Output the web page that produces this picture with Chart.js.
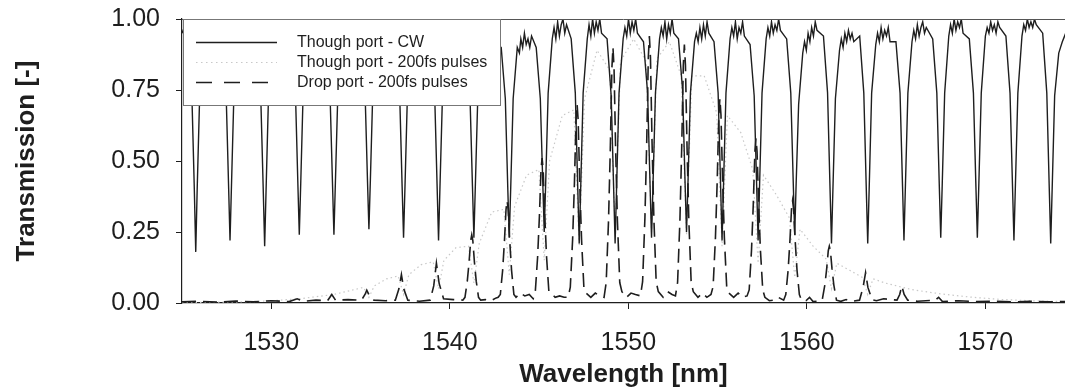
<!DOCTYPE html>
<html>
<head>
<meta charset="utf-8">
<script src="https://cdn.jsdelivr.net/npm/chart.js@4.4.1/dist/chart.umd.min.js"></script>
<style>
  html, body { margin: 0; padding: 0; background: #fff; }
</style>
</head>
<body>
<canvas id="spectrum" width="1065" height="391"></canvas>
<script>
// axis ticks
const xTicks = [1530, 1540, 1550, 1560, 1570];
const yTicks = [0, 0.25, 0.5, 0.75, 1];

const seriesNames = ["Though port - CW", "Though port - 200fs pulses", "Drop port - 200fs pulses"];

// through port, CW  [wavelength nm, transmission], one dip per line
const cwPoints = [
  [1525.00,0.95],[1525.12,0.97],
  [1525.32,0.93],[1525.55,0.74],[1525.69,0.40],[1525.77,0.18],[1525.85,0.40],[1525.99,0.73],[1526.22,0.92],[1526.42,0.97],[1526.62,0.93],[1526.82,0.98],[1527.02,0.94],
  [1527.24,0.92],[1527.47,0.74],[1527.61,0.41],[1527.69,0.22],[1527.77,0.41],[1527.91,0.74],[1528.14,0.93],[1528.34,0.96],[1528.54,0.92],[1528.74,0.97],[1528.94,0.95],
  [1529.18,0.93],[1529.41,0.73],[1529.55,0.40],[1529.63,0.20],[1529.71,0.40],[1529.85,0.74],[1530.08,0.94],[1530.28,0.98],[1530.48,0.94],[1530.68,0.97],[1530.88,0.95],
  [1531.12,0.92],[1531.35,0.75],[1531.49,0.42],[1531.57,0.24],[1531.65,0.42],[1531.79,0.75],[1532.02,0.93],[1532.22,0.97],[1532.42,0.95],[1532.62,0.98],[1532.82,0.94],
  [1533.06,0.93],[1533.29,0.74],[1533.43,0.42],[1533.51,0.24],[1533.59,0.42],[1533.73,0.74],[1533.96,0.92],[1534.16,0.96],[1534.36,0.93],[1534.56,0.97],[1534.76,0.95],
  [1535.02,0.92],[1535.25,0.75],[1535.39,0.43],[1535.47,0.26],[1535.55,0.43],[1535.69,0.75],[1535.92,0.93],[1536.12,0.97],[1536.32,0.94],[1536.52,0.98],[1536.72,0.95],
  [1536.96,0.93],[1537.19,0.74],[1537.33,0.41],[1537.41,0.23],[1537.49,0.41],[1537.63,0.74],[1537.86,0.92],[1538.06,0.96],[1538.26,0.93],[1538.46,0.97],[1538.66,0.94],
  [1538.92,0.92],[1539.15,0.74],[1539.29,0.41],[1539.37,0.22],[1539.45,0.41],[1539.59,0.73],[1539.82,0.92],[1540.02,0.96],[1540.22,0.93],[1540.42,0.97],[1540.62,0.94],
  [1540.90,0.92],[1541.13,0.73],[1541.27,0.41],[1541.35,0.23],[1541.43,0.41],[1541.57,0.73],[1541.80,0.90],[1542.00,0.94],[1542.20,0.92],[1542.40,0.95],[1542.60,0.91],
  [1542.88,0.90],[1543.11,0.72],[1543.25,0.40],[1543.33,0.23],[1543.41,0.40],[1543.55,0.72],[1543.78,0.90],[1543.90,0.88],[1543.98,0.93],[1544.08,0.90],[1544.18,0.95],[1544.28,0.91],[1544.38,0.93],[1544.48,0.90],[1544.58,0.94],
  [1544.84,0.90],[1545.07,0.72],[1545.21,0.42],[1545.29,0.25],[1545.37,0.42],[1545.51,0.74],[1545.74,0.93],[1545.84,0.97],[1545.94,0.93],[1546.04,0.99],[1546.14,0.94],[1546.24,0.98],[1546.34,1.00],[1546.44,0.95],[1546.54,0.98],
  [1546.80,0.93],[1547.03,0.74],[1547.17,0.40],[1547.25,0.21],[1547.33,0.40],[1547.47,0.74],[1547.70,0.93],[1547.80,0.98],[1547.90,0.94],[1548.00,1.00],[1548.10,0.95],[1548.20,0.99],[1548.30,0.96],[1548.40,1.00],[1548.50,0.95],
  [1548.81,0.93],[1549.04,0.73],[1549.18,0.40],[1549.26,0.21],[1549.34,0.40],[1549.48,0.74],[1549.71,0.93],[1549.81,0.97],[1549.91,0.94],[1550.01,1.00],[1550.11,0.95],[1550.21,0.99],[1550.31,0.96],[1550.41,1.00],[1550.51,0.95],
  [1550.85,0.92],[1551.08,0.74],[1551.22,0.41],[1551.30,0.23],[1551.38,0.41],[1551.52,0.74],[1551.75,0.93],[1551.85,0.97],[1551.95,0.94],[1552.05,0.99],[1552.15,0.93],[1552.25,0.98],[1552.35,0.95],[1552.45,1.00],[1552.55,0.95],
  [1552.81,0.93],[1553.04,0.75],[1553.18,0.42],[1553.26,0.25],[1553.34,0.42],[1553.48,0.74],[1553.71,0.92],[1553.81,0.95],[1553.91,0.92],[1554.01,0.97],[1554.11,0.93],[1554.21,0.98],[1554.31,0.94],[1554.41,0.99],[1554.51,0.95],
  [1554.80,0.92],[1555.03,0.74],[1555.17,0.41],[1555.25,0.22],[1555.33,0.41],[1555.47,0.74],[1555.70,0.93],[1555.80,0.97],[1555.90,0.94],[1556.00,0.99],[1556.10,0.93],[1556.20,0.97],[1556.30,0.95],[1556.40,0.99],[1556.50,0.94],
  [1556.82,0.91],[1557.05,0.73],[1557.19,0.41],[1557.27,0.22],[1557.35,0.41],[1557.49,0.74],[1557.72,0.93],[1557.82,0.97],[1557.92,0.94],[1558.02,0.99],[1558.12,0.95],[1558.22,0.98],[1558.32,0.96],[1558.42,1.00],[1558.52,0.96],
  [1558.87,0.93],[1559.10,0.74],[1559.24,0.42],[1559.32,0.24],[1559.40,0.42],[1559.54,0.70],[1559.77,0.88],[1559.87,0.92],[1559.97,0.89],[1560.07,0.95],[1560.17,0.92],[1560.27,0.97],[1560.37,0.94],[1560.47,0.99],[1560.57,0.96],
  [1560.93,0.94],[1561.16,0.74],[1561.30,0.40],[1561.38,0.21],[1561.46,0.40],[1561.60,0.72],[1561.83,0.89],[1561.93,0.93],[1562.03,0.90],[1562.13,0.95],[1562.23,0.92],[1562.33,0.96],[1562.43,0.93],[1562.53,0.95],[1562.63,0.92],
  [1562.96,0.94],[1563.19,0.74],[1563.33,0.40],[1563.41,0.21],[1563.49,0.40],[1563.63,0.74],[1563.86,0.91],[1563.96,0.95],[1564.06,0.92],[1564.16,0.97],[1564.26,0.93],[1564.36,0.96],[1564.46,0.94],[1564.56,0.97],[1564.66,0.92],
  [1564.99,0.92],[1565.22,0.74],[1565.36,0.41],[1565.44,0.22],[1565.52,0.41],[1565.66,0.74],[1565.89,0.92],[1565.99,0.96],[1566.09,0.93],[1566.19,0.98],[1566.29,0.94],[1566.39,0.97],[1566.49,0.99],[1566.59,0.95],[1566.69,0.97],
  [1567.05,0.93],[1567.28,0.74],[1567.42,0.41],[1567.50,0.23],[1567.58,0.41],[1567.72,0.74],[1567.95,0.94],[1568.05,0.98],[1568.15,0.95],[1568.25,1.00],[1568.35,0.96],[1568.45,0.99],[1568.55,0.97],[1568.65,1.00],[1568.75,0.95],
  [1569.10,0.93],[1569.33,0.74],[1569.47,0.41],[1569.55,0.23],[1569.63,0.41],[1569.77,0.74],[1570.00,0.94],[1570.10,0.97],[1570.20,0.95],[1570.30,0.99],[1570.40,0.96],[1570.50,0.98],[1570.60,0.95],[1570.70,0.99],[1570.80,0.97],
  [1571.15,0.94],[1571.38,0.74],[1571.52,0.41],[1571.60,0.22],[1571.68,0.41],[1571.82,0.74],[1572.05,0.94],[1572.15,0.98],[1572.25,0.96],[1572.35,1.00],[1572.45,0.97],[1572.55,0.99],[1572.65,0.97],[1572.75,1.00],[1572.85,0.98],
  [1573.21,0.95],[1573.44,0.74],[1573.58,0.40],[1573.66,0.21],[1573.74,0.40],[1573.88,0.73],[1574.11,0.88],[1574.21,0.90],[1574.31,0.92],[1574.50,0.95]
];

// through port, 200fs pulses (dotted)
const pulseThroughPoints = [
  [1525.0,0.002],[1527.0,0.003],[1529.0,0.005],[1530.5,0.01],[1531.6,0.015],[1532.5,0.022],[1533.5,0.03],[1534.5,0.045],
  [1535.17,0.055],[1535.47,0.02],[1535.77,0.06],[1536.45,0.085],
  [1537.11,0.095],[1537.41,0.03],[1537.71,0.10],[1538.40,0.135],
  [1539.07,0.145],[1539.37,0.05],[1539.67,0.15],[1540.35,0.195],
  [1541.05,0.20],[1541.35,0.07],[1541.65,0.21],[1542.35,0.32],
  [1543.03,0.33],[1543.33,0.10],[1543.63,0.34],[1544.30,0.45],
  [1544.99,0.47],[1545.29,0.15],[1545.59,0.50],[1546.30,0.66],
  [1546.95,0.68],[1547.25,0.20],[1547.55,0.72],[1548.25,0.89],
  [1548.96,0.82],[1549.26,0.25],[1549.56,0.85],[1550.30,0.93],
  [1551.00,0.85],[1551.30,0.25],[1551.60,0.86],[1552.30,0.92],
  [1552.96,0.80],[1553.26,0.24],[1553.56,0.80],[1554.25,0.80],
  [1554.95,0.67],[1555.25,0.20],[1555.55,0.66],[1556.30,0.60],
  [1556.97,0.47],[1557.27,0.14],[1557.57,0.45],[1558.30,0.38],
  [1559.02,0.30],[1559.32,0.09],[1559.62,0.26],[1560.35,0.20],
  [1561.08,0.155],[1561.38,0.05],[1561.68,0.14],[1562.40,0.115],
  [1563.11,0.09],[1563.41,0.03],[1563.71,0.085],[1564.40,0.07],
  [1565.9,0.047],[1567.5,0.032],[1569.3,0.02],[1571.0,0.012],[1573.0,0.007],[1574.5,0.005]
];

// drop port, 200fs pulses (dashed)
const dropPoints = [
  [1525.0,0.004],[1526.0,0.006],[1527.0,0.003],[1528.0,0.007],[1529.0,0.004],[1530.0,0.008],[1531.0,0.005],
  [1531.45,0.015],[1531.8,0.006],[1532.5,0.01],
  [1533.15,0.008],[1533.39,0.03],[1533.6,0.01],[1534.3,0.012],
  [1535.05,0.01],[1535.25,0.03],[1535.35,0.045],[1535.5,0.025],[1535.75,0.01],[1536.4,0.008],
  [1536.95,0.01],[1537.15,0.05],[1537.29,0.10],[1537.42,0.05],[1537.65,0.01],[1538.3,0.006],
  [1538.9,0.01],[1539.1,0.06],[1539.25,0.14],[1539.4,0.07],[1539.65,0.015],[1540.2,0.012],
  [1540.73,0.01],[1540.85,0.02],[1540.98,0.077],[1541.08,0.144],[1541.17,0.22],[1541.23,0.24],[1541.29,0.22],[1541.38,0.144],[1541.48,0.077],[1541.61,0.02],[1541.73,0.01],[1542.0,0.012],[1542.3,0.008],[1542.6,0.018],
  [1542.71,0.02],[1542.83,0.03],[1542.96,0.115],[1543.06,0.216],[1543.15,0.33],[1543.21,0.36],[1543.27,0.33],[1543.36,0.216],[1543.46,0.115],[1543.59,0.03],[1543.71,0.02],[1543.95,0.035],[1544.2,0.025],[1544.45,0.03],
  [1544.67,0.015],[1544.79,0.04],[1544.92,0.163],[1545.02,0.306],[1545.11,0.47],[1545.17,0.51],[1545.23,0.47],[1545.32,0.306],[1545.42,0.163],[1545.55,0.04],[1545.67,0.035],[1545.9,0.02],[1546.15,0.025],[1546.4,0.02],
  [1546.63,0.02],[1546.75,0.056],[1546.88,0.224],[1546.98,0.42],[1547.07,0.644],[1547.13,0.70],[1547.19,0.644],[1547.28,0.42],[1547.38,0.224],[1547.51,0.056],[1547.63,0.035],[1547.9,0.02],[1548.15,0.035],[1548.4,0.025],
  [1548.64,0.02],[1548.76,0.072],[1548.89,0.288],[1548.99,0.54],[1549.08,0.828],[1549.14,0.90],[1549.20,0.828],[1549.29,0.54],[1549.39,0.288],[1549.52,0.072],[1549.64,0.04],[1549.9,0.02],[1550.15,0.035],[1550.4,0.03],
  [1550.68,0.025],[1550.80,0.075],[1550.93,0.30],[1551.03,0.564],[1551.12,0.865],[1551.18,0.94],[1551.24,0.865],[1551.33,0.564],[1551.43,0.30],[1551.56,0.075],[1551.68,0.04],[1551.95,0.02],[1552.2,0.04],[1552.45,0.03],
  [1552.64,0.025],[1552.76,0.073],[1552.89,0.29],[1552.99,0.546],[1553.08,0.837],[1553.14,0.91],[1553.20,0.837],[1553.29,0.546],[1553.39,0.29],[1553.52,0.073],[1553.64,0.04],[1553.9,0.02],[1554.15,0.035],[1554.4,0.02],
  [1554.63,0.03],[1554.75,0.058],[1554.88,0.23],[1554.98,0.432],[1555.07,0.662],[1555.13,0.72],[1555.19,0.662],[1555.28,0.432],[1555.38,0.23],[1555.51,0.058],[1555.63,0.035],[1555.9,0.02],[1556.15,0.035],[1556.4,0.02],
  [1556.65,0.025],[1556.77,0.046],[1556.90,0.186],[1557.00,0.348],[1557.09,0.534],[1557.15,0.58],[1557.21,0.534],[1557.30,0.348],[1557.40,0.186],[1557.53,0.046],[1557.65,0.02],[1557.9,0.008],[1558.15,0.01],[1558.4,0.02],
  [1558.70,0.01],[1558.82,0.03],[1558.95,0.115],[1559.05,0.216],[1559.14,0.33],[1559.20,0.36],[1559.26,0.33],[1559.35,0.216],[1559.45,0.115],[1559.58,0.03],[1559.70,0.01],[1559.95,0.008],[1560.15,0.02],[1560.35,0.005],[1560.6,0.006],
  [1560.86,0.01],[1561.01,0.064],[1561.11,0.12],[1561.20,0.184],[1561.26,0.20],[1561.32,0.184],[1561.41,0.12],[1561.51,0.064],[1561.66,0.01],[1561.9,0.006],[1562.2,0.012],[1562.5,0.006],
  [1562.95,0.01],[1563.15,0.055],[1563.29,0.107],[1563.42,0.055],[1563.65,0.012],[1563.9,0.008],[1564.3,0.015],
  [1565.05,0.01],[1565.2,0.03],[1565.32,0.06],[1565.45,0.03],[1565.65,0.01],[1566.2,0.006],
  [1567.2,0.01],[1567.38,0.02],[1567.6,0.005],[1568.5,0.008],[1569.5,0.005],[1570.5,0.006],[1571.5,0.004],[1572.5,0.006],[1573.5,0.004],[1574.5,0.005]
];

const fam = "'Liberation Sans', Arial, Helvetica, sans-serif";
const ink = "#1e1e1e";

function toXY(pts) {
  return pts.map(p => ({ x: p[0], y: p[1] }));
}

// legend drawn as a box in the top-left corner of the plot, plus the top frame line
const boxLegend = {
  id: "boxLegend",
  afterDraw(chart) {
    const ctx = chart.ctx;
    const a = chart.chartArea;
    ctx.save();
    ctx.strokeStyle = "#555";
    ctx.lineWidth = 1;
    ctx.beginPath();
    ctx.moveTo(a.left, a.top + 0.5);
    ctx.lineTo(a.right, a.top + 0.5);
    ctx.stroke();

    const x0 = a.left + 1, y0 = a.top, w = 317, h = 86;
    ctx.fillStyle = "#fff";
    ctx.fillRect(x0, y0, w, h);
    ctx.strokeStyle = "#777";
    ctx.strokeRect(x0 + 0.5, y0 + 0.5, w, h);

    ctx.font = "16px " + fam;
    ctx.textBaseline = "middle";
    chart.data.datasets.forEach((ds, i) => {
      const y = Math.round(y0 + 23 + i * 20) + 0.5;
      ctx.strokeStyle = ds.borderColor;
      ctx.lineWidth = ds.borderWidth;
      ctx.setLineDash(ds.legendDash || []);
      ctx.beginPath();
      ctx.moveTo(x0 + 13, y);
      ctx.lineTo(x0 + 94, y);
      ctx.stroke();
      ctx.setLineDash([]);
      ctx.fillStyle = ink;
      ctx.fillText(ds.label, x0 + 114, y);
    });
    ctx.restore();
  }
};

new Chart(document.getElementById("spectrum").getContext("2d"), {
  type: "scatter",
  data: {
    datasets: [
      {
        label: seriesNames[0],
        data: toXY(cwPoints),
        showLine: true,
        borderColor: ink,
        borderWidth: 1.4,
        pointRadius: 0,
        order: 2
      },
      {
        label: seriesNames[1],
        data: toXY(pulseThroughPoints),
        showLine: true,
        borderColor: "#c8c8c8",
        borderWidth: 1.2,
        borderDash: [1.5, 3],
        legendDash: [1.5, 3.5],
        pointRadius: 0,
        order: 3
      },
      {
        label: seriesNames[2],
        data: toXY(dropPoints),
        showLine: true,
        borderColor: ink,
        borderWidth: 1.6,
        borderDash: [14, 7],
        legendDash: [16, 12],
        pointRadius: 0,
        order: 1
      }
    ]
  },
  options: {
    responsive: false,
    animation: false,
    layout: { padding: { top: 19, right: 0, bottom: 0, left: 0 } },
    plugins: {
      legend: { display: false },
      tooltip: { enabled: false }
    },
    scales: {
      x: {
        type: "linear",
        min: 1525,
        max: 1574.46,
        afterBuildTicks: s => { s.ticks = xTicks.map(v => ({ value: v })); },
        afterFit: s => { s.height = 88; s.paddingLeft = 0; s.paddingRight = 0; },
        grid: { drawOnChartArea: false, drawTicks: true, tickLength: 6, color: ink },
        border: { color: ink, width: 1.2 },
        ticks: {
          font: { family: fam, size: 25 },
          color: ink,
          padding: 19,
          maxRotation: 0,
          autoSkip: false,
          callback: v => String(v)
        },
        title: {
          display: true,
          text: "Wavelength [nm]",
          font: { family: fam, size: 26, weight: "bold" },
          color: ink,
          padding: { top: 0, bottom: 1 }
        }
      },
      y: {
        min: 0,
        max: 1,
        afterBuildTicks: s => { s.ticks = yTicks.map(v => ({ value: v })); },
        afterFit: s => { s.width = 182; s.paddingTop = 0; s.paddingBottom = 0; },
        grid: { drawOnChartArea: false, drawTicks: true, tickLength: 6, color: ink },
        border: { color: ink, width: 1.2 },
        ticks: {
          font: { family: fam, size: 25 },
          color: ink,
          padding: 16,
          callback: v => v.toFixed(2)
        },
        title: {
          display: true,
          text: "Transmission [-]",
          font: { family: fam, size: 26, weight: "bold" },
          color: ink,
          padding: { top: 11, bottom: 0 }
        }
      }
    }
  },
  plugins: [boxLegend]
});
</script>
</body>
</html>
